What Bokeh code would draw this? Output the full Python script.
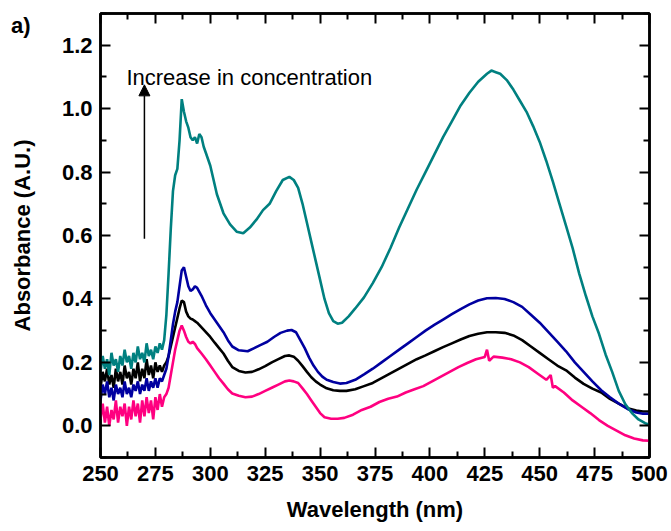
from bokeh.plotting import figure
from bokeh.models import Range1d, LinearAxis, Label, Arrow, NormalHead, FixedTicker
from bokeh.embed import file_html
from bokeh.resources import INLINE

# ---- absorbance spectra (wavelength in nm, absorbance in A.U.) ----
# noisy short-wavelength edge, sampled every nm
edge_wl = list(range(250, 280))

teal_edge = [0.17, 0.22, 0.18, 0.21, 0.16, 0.23, 0.19, 0.21, 0.17, 0.22,
             0.19, 0.24, 0.20, 0.22, 0.18, 0.23, 0.20, 0.25, 0.21, 0.23,
             0.20, 0.26, 0.22, 0.24, 0.21, 0.25, 0.23, 0.26, 0.24, 0.27]
blue_edge = [0.08, 0.13, 0.10, 0.14, 0.09, 0.12, 0.08, 0.13, 0.10, 0.12,
             0.09, 0.14, 0.10, 0.12, 0.09, 0.13, 0.11, 0.14, 0.10, 0.13,
             0.11, 0.15, 0.11, 0.14, 0.12, 0.15, 0.12, 0.15, 0.14, 0.16]
black_edge = [0.12, 0.17, 0.14, 0.18, 0.13, 0.16, 0.12, 0.18, 0.14, 0.17,
              0.13, 0.19, 0.15, 0.17, 0.13, 0.18, 0.15, 0.20, 0.14, 0.18,
              0.15, 0.21, 0.16, 0.19, 0.15, 0.20, 0.17, 0.19, 0.17, 0.19]
pink_edge = [0.02, 0.07, 0.01, 0.06, 0.00, 0.05, 0.02, 0.08, 0.01, 0.06,
             0.03, 0.07, 0.00, 0.06, 0.02, 0.08, 0.03, 0.07, 0.01, 0.08,
             0.03, 0.09, 0.04, 0.08, 0.02, 0.09, 0.05, 0.10, 0.06, 0.09]

teal_wl = [280, 281, 282, 283, 284, 285, 286, 287, 288, 289, 290, 291, 292, 293,
           294, 295, 296, 297, 298, 300, 303, 306, 309, 312, 315, 318, 321, 324,
           327, 330, 333, 336, 338, 340, 342, 344, 346, 348, 350, 352, 354, 356,
           358, 360, 363, 366, 370, 374, 378, 382, 386, 390, 394, 398, 402, 406,
           410, 414, 418, 422, 426, 428, 430, 432, 435, 438, 441, 444, 447, 450,
           453, 456, 459, 462, 465, 468, 471, 474, 477, 480, 483, 486, 489, 492,
           495, 498, 500]
teal_abs = [0.35, 0.48, 0.62, 0.74, 0.79, 0.81, 0.90, 1.03, 0.99, 0.96, 0.94, 0.91,
            0.90, 0.91, 0.89, 0.92, 0.91, 0.88, 0.86, 0.82, 0.73, 0.67, 0.635,
            0.612, 0.607, 0.625, 0.65, 0.68, 0.70, 0.74, 0.775, 0.785, 0.775, 0.75,
            0.70, 0.64, 0.58, 0.52, 0.46, 0.40, 0.355, 0.33, 0.322, 0.325, 0.345,
            0.37, 0.405, 0.45, 0.50, 0.56, 0.625, 0.685, 0.745, 0.80, 0.855, 0.91,
            0.96, 1.01, 1.05, 1.085, 1.11, 1.12, 1.115, 1.11, 1.09, 1.06, 1.025,
            0.99, 0.945, 0.895, 0.835, 0.77, 0.70, 0.63, 0.56, 0.48, 0.41, 0.345,
            0.29, 0.225, 0.17, 0.11, 0.068, 0.04, 0.02, 0.008, 0.003]

blue_wl = [280, 281, 282, 283, 284, 285, 286, 287, 288, 289, 290, 291, 292, 293,
           294, 296, 298, 300, 303, 306, 308, 310, 313, 317, 320, 323, 326, 329,
           332, 335, 337, 339, 341, 343, 345, 347, 349, 351, 353, 356, 359, 362,
           366, 370, 374, 378, 382, 386, 390, 394, 398, 402, 406, 410, 414, 418,
           422, 426, 430, 434, 438, 442, 446, 450, 454, 458, 462, 466, 470, 474,
           478, 482, 486, 490, 494, 497, 500]
blue_abs = [0.18, 0.22, 0.27, 0.32, 0.36, 0.39, 0.44, 0.49, 0.50, 0.47, 0.44, 0.425,
            0.43, 0.44, 0.435, 0.41, 0.38, 0.355, 0.325, 0.295, 0.27, 0.25, 0.238,
            0.235, 0.245, 0.255, 0.265, 0.28, 0.293, 0.30, 0.302, 0.295, 0.27, 0.245,
            0.215, 0.19, 0.17, 0.155, 0.145, 0.138, 0.133, 0.135, 0.145, 0.162,
            0.18, 0.20, 0.22, 0.24, 0.26, 0.28, 0.30, 0.318, 0.335, 0.352, 0.368,
            0.383, 0.395, 0.402, 0.403, 0.40, 0.39, 0.375, 0.35, 0.325, 0.295,
            0.265, 0.235, 0.20, 0.17, 0.14, 0.112, 0.09, 0.07, 0.053, 0.042, 0.038,
            0.038]

black_wl = [280, 281, 282, 283, 284, 285, 286, 287, 288, 289, 290, 291, 292, 293,
            294, 296, 298, 300, 302, 304, 306, 308, 310, 313, 316, 319, 322, 325,
            328, 331, 334, 336, 338, 340, 342, 344, 346, 348, 350, 353, 356, 359,
            362, 366, 370, 374, 378, 382, 386, 390, 394, 398, 402, 406, 410, 414,
            418, 422, 426, 430, 434, 438, 442, 446, 450, 454, 458, 462, 466, 470,
            474, 478, 482, 486, 490, 494, 497, 500]
black_abs = [0.20, 0.22, 0.25, 0.28, 0.31, 0.34, 0.37, 0.395, 0.39, 0.36, 0.345,
             0.338, 0.335, 0.33, 0.325, 0.31, 0.295, 0.28, 0.262, 0.245, 0.228,
             0.205, 0.185, 0.173, 0.168, 0.17, 0.178, 0.188, 0.20, 0.21, 0.22,
             0.222, 0.218, 0.205, 0.188, 0.17, 0.153, 0.14, 0.13, 0.118, 0.112,
             0.11, 0.11, 0.115, 0.125, 0.135, 0.15, 0.165, 0.18, 0.195, 0.21,
             0.222, 0.235, 0.248, 0.26, 0.272, 0.283, 0.29, 0.295, 0.295, 0.293,
             0.285, 0.27, 0.25, 0.23, 0.21, 0.19, 0.175, 0.152, 0.132, 0.117,
             0.105, 0.085, 0.07, 0.055, 0.048, 0.045, 0.045]

pink_wl = [280, 281, 282, 283, 284, 285, 286, 287, 288, 289, 290, 291, 292, 293,
           294, 296, 298, 300, 302, 304, 306, 308, 310, 313, 316, 319, 322, 325,
           328, 331, 334, 336, 338, 340, 342, 344, 346, 348, 350, 352, 355, 358,
           361, 365, 369, 373, 377, 381, 385, 389, 393, 397, 401, 405, 409, 413,
           417, 421, 425, 426, 427, 429, 433, 437, 441, 445, 449, 453, 455, 456,
           457, 461, 465, 469, 473, 477, 481, 485, 489, 493, 497, 500]
pink_abs = [0.10, 0.12, 0.16, 0.20, 0.24, 0.27, 0.30, 0.316, 0.30, 0.28, 0.265,
            0.26, 0.265, 0.258, 0.245, 0.228, 0.21, 0.19, 0.17, 0.15, 0.133,
            0.115, 0.102, 0.095, 0.09, 0.092, 0.10, 0.11, 0.12, 0.13, 0.14, 0.143,
            0.14, 0.135, 0.118, 0.10, 0.08, 0.06, 0.04, 0.027, 0.022, 0.022, 0.025,
            0.035, 0.05, 0.06, 0.075, 0.085, 0.092, 0.105, 0.115, 0.125, 0.14,
            0.155, 0.17, 0.185, 0.198, 0.21, 0.217, 0.24, 0.205, 0.218, 0.215,
            0.21, 0.20, 0.185, 0.165, 0.145, 0.16, 0.12, 0.125, 0.105, 0.08, 0.06,
            0.04, 0.018, 0.0, -0.015, -0.03, -0.04, -0.046, -0.047]

series = [
    (edge_wl + pink_wl, pink_edge + pink_abs, "#FF0080"),
    (edge_wl + black_wl, black_edge + black_abs, "#000000"),
    (edge_wl + blue_wl, blue_edge + blue_abs, "#0000A0"),
    (edge_wl + teal_wl, teal_edge + teal_abs, "#008080"),
]

x_ticks = [250, 275, 300, 325, 350, 375, 400, 425, 450, 475, 500]
y_ticks = [0.0, 0.2, 0.4, 0.6, 0.8, 1.0, 1.2]
x_minor = [262.5, 287.5, 312.5, 337.5, 362.5, 387.5, 412.5, 437.5, 462.5, 487.5]
y_minor = [-0.1, 0.1, 0.3, 0.5, 0.7, 0.9, 1.1, 1.3]

FONT = "Liberation Sans"

p = figure(width=671, height=531, output_backend="svg", toolbar_location=None,
           x_range=Range1d(250, 500), y_range=Range1d(-0.1, 1.3),
           min_border_left=100, min_border_right=22, min_border_top=13,
           min_border_bottom=74, x_axis_label="Wavelength (nm)",
           y_axis_label="Absorbance (A.U.)")
p.xgrid.visible = False
p.ygrid.visible = False
p.outline_line_color = "black"
p.outline_line_width = 2.5
p.background_fill_color = "white"
p.border_fill_color = "white"

for wl, ab, col in series:
    p.line(wl, ab, line_color=col, line_width=2.6)


def style_axis(ax, ticks, minor):
    ax.ticker = FixedTicker(ticks=ticks, minor_ticks=minor)
    ax.axis_line_width = 2.5
    ax.axis_line_color = "black"
    ax.major_tick_in = 10
    ax.major_tick_out = 0
    ax.minor_tick_in = 6
    ax.minor_tick_out = 0
    ax.major_tick_line_width = 2
    ax.minor_tick_line_width = 2
    ax.major_label_text_font = FONT
    ax.major_label_text_font_style = "bold"
    ax.major_label_text_font_size = "22px"
    ax.major_label_text_color = "black"


xa = p.xaxis[0]
ya = p.yaxis[0]
style_axis(xa, x_ticks, x_minor)
style_axis(ya, y_ticks, y_minor)
xa.major_label_overrides = {t: str(t) for t in x_ticks}
ya.major_label_overrides = {t: f"{t:.1f}" for t in y_ticks}
xa.major_label_standoff = 8
ya.major_label_standoff = 8
for ax in (xa, ya):
    ax.axis_label_text_font = FONT
    ax.axis_label_text_font_style = "bold"
    ax.axis_label_text_font_size = "22px"
    ax.axis_label_text_color = "black"
xa.axis_label_standoff = 13
ya.axis_label_standoff = 24

# mirrored tick axes on the top and right edges, without labels
top = LinearAxis()
right = LinearAxis()
for ax, ticks, minor in ((top, x_ticks, x_minor), (right, y_ticks, y_minor)):
    style_axis(ax, ticks, minor)
    ax.major_label_overrides = {t: "" for t in ticks}
    ax.major_label_text_font_size = "1px"
    ax.major_label_standoff = 0
p.add_layout(top, "above")
p.add_layout(right, "right")

# panel letter "a)" set in the outer left margin as a lone tick label
panel_tick = 1.262
letter_axis = LinearAxis(ticker=FixedTicker(ticks=[panel_tick], minor_ticks=[]))
letter_axis.major_label_overrides = {panel_tick: "a)"}
letter_axis.major_label_text_font = FONT
letter_axis.major_label_text_font_style = "bold"
letter_axis.major_label_text_font_size = "22px"
letter_axis.major_label_text_color = "black"
letter_axis.major_label_standoff = -24
letter_axis.axis_line_color = None
letter_axis.major_tick_line_color = None
letter_axis.minor_tick_line_color = None
letter_axis.major_tick_in = 0
letter_axis.major_tick_out = 0
p.add_layout(letter_axis, "left")

# concentration arrow and note
p.add_layout(Arrow(end=NormalHead(size=11, fill_color="black", line_color="black",
                                  line_width=1),
                   x_start=270, y_start=0.59, x_end=270, y_end=1.075,
                   line_color="black", line_width=1.5))
p.add_layout(Label(x=261.8, y=1.099, text="Increase in concentration",
                   text_font=FONT, text_font_size="22px", text_color="black",
                   text_baseline="alphabetic"))

open("out.html", "w").write(file_html(p, INLINE))
